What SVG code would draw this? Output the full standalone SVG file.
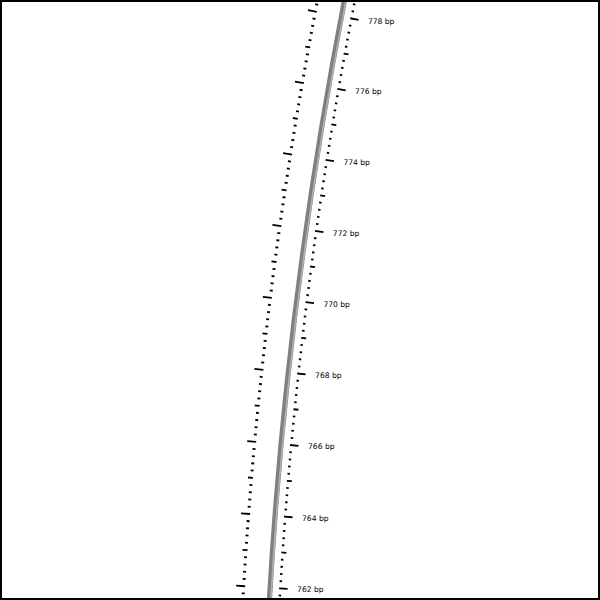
<svg xmlns="http://www.w3.org/2000/svg" xmlns:xlink="http://www.w3.org/1999/xlink" width="600" height="600" viewBox="0 0 600 600">
  <style>
    .tk { stroke: #000; stroke-width: 1.8; fill: none; }
    .lbl { font-family: "DejaVu Sans", "Liberation Sans", sans-serif; font-size: 7.6px; fill: #000; }
  </style>
  <defs>
    <g id="d">
      <line class="tk" x1="-4491" y1="0" x2="-4488.5" y2="0"/>
      <line class="tk" x1="-4525" y1="0" x2="-4528" y2="0"/>
    </g>
    <g id="dots">
      <use xlink:href="#d" href="#d" transform="rotate(0.091674)"/>
      <use xlink:href="#d" href="#d" transform="rotate(0.183348)"/>
      <use xlink:href="#d" href="#d" transform="rotate(0.275022)"/>
      <use xlink:href="#d" href="#d" transform="rotate(0.366696)"/>
    </g>
    <g id="ue">
      <line class="tk" x1="-4491" y1="0" x2="-4482.5" y2="0"/>
      <line class="tk" x1="-4525" y1="0" x2="-4534" y2="0"/>
      <use xlink:href="#dots" href="#dots"/>
    </g>
    <g id="uo">
      <line class="tk" x1="-4491" y1="0" x2="-4486" y2="0"/>
      <line class="tk" x1="-4525" y1="0" x2="-4530" y2="0"/>
      <use xlink:href="#dots" href="#dots"/>
    </g>
  </defs>
  <rect x="0" y="0" width="600" height="600" fill="#fff"/>
  <g id="map" transform="translate(4762 858) rotate(7.11)">
    <g id="backbone" fill="none">
      <path d="M -4487.01 -341.67 A 4500 4500 0 0 0 -4487.01 341.67" stroke="#808080" stroke-width="5.2"/>
      <path d="M -4485.54 -341.56 A 4498.5 4498.5 0 0 0 -4485.54 341.56" stroke="#b0b0b0" stroke-width="1.6"/>
    </g>
    <g id="ruler">
      <use xlink:href="#uo" href="#uo" transform="rotate(-4.12533)"/>
      <use xlink:href="#ue" href="#ue" transform="rotate(-3.66696)"/>
      <use xlink:href="#uo" href="#uo" transform="rotate(-3.20859)"/>
      <use xlink:href="#ue" href="#ue" transform="rotate(-2.75022)"/>
      <use xlink:href="#uo" href="#uo" transform="rotate(-2.29185)"/>
      <use xlink:href="#ue" href="#ue" transform="rotate(-1.83348)"/>
      <use xlink:href="#uo" href="#uo" transform="rotate(-1.37511)"/>
      <use xlink:href="#ue" href="#ue" transform="rotate(-0.91674)"/>
      <use xlink:href="#uo" href="#uo" transform="rotate(-0.45837)"/>
      <use xlink:href="#ue" href="#ue"/>
      <use xlink:href="#uo" href="#uo" transform="rotate(0.45837)"/>
      <use xlink:href="#ue" href="#ue" transform="rotate(0.91674)"/>
      <use xlink:href="#uo" href="#uo" transform="rotate(1.37511)"/>
      <use xlink:href="#ue" href="#ue" transform="rotate(1.83348)"/>
      <use xlink:href="#uo" href="#uo" transform="rotate(2.29185)"/>
      <use xlink:href="#ue" href="#ue" transform="rotate(2.75022)"/>
      <use xlink:href="#uo" href="#uo" transform="rotate(3.20859)"/>
      <use xlink:href="#ue" href="#ue" transform="rotate(3.66696)"/>
    </g>
  </g>
  <g id="labels">
    <text class="lbl" x="297.1" y="592.0">762 bp</text>
    <text class="lbl" x="302.0" y="520.6">764 bp</text>
    <text class="lbl" x="308.0" y="449.2">766 bp</text>
    <text class="lbl" x="315.1" y="377.9">768 bp</text>
    <text class="lbl" x="323.4" y="306.8">770 bp</text>
    <text class="lbl" x="332.8" y="235.8">772 bp</text>
    <text class="lbl" x="343.4" y="165.0">774 bp</text>
    <text class="lbl" x="355.1" y="94.4">776 bp</text>
    <text class="lbl" x="367.9" y="24.0">778 bp</text>
  </g>
  <rect x="1" y="1" width="598" height="598" fill="none" stroke="#000" stroke-width="2"/>
</svg>
